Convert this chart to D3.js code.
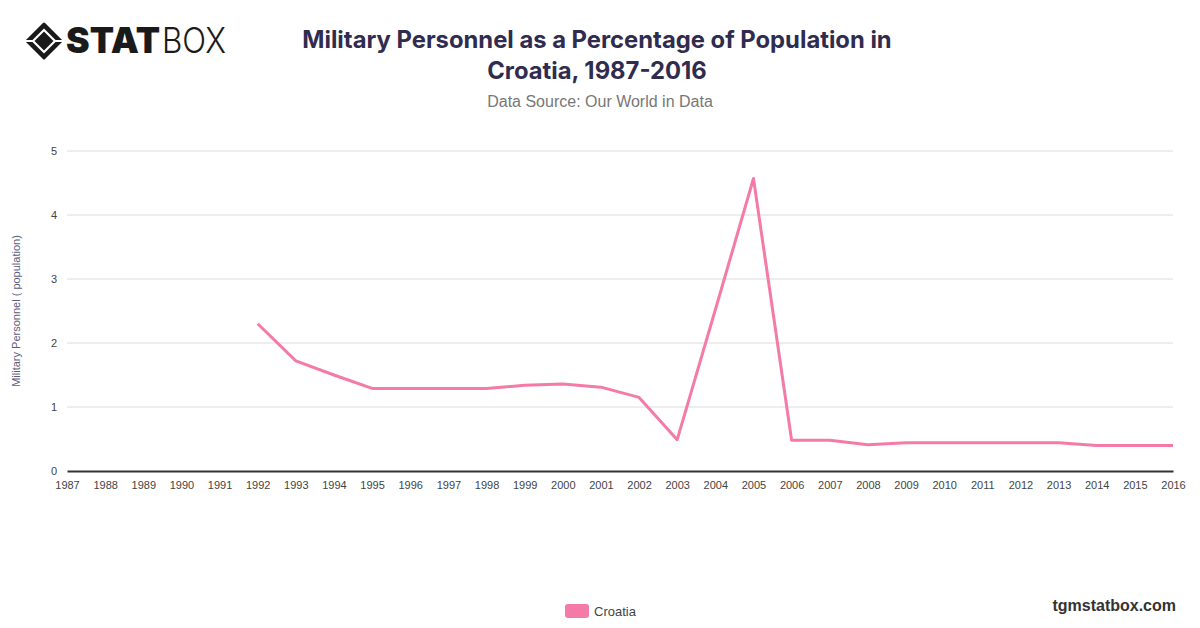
<!DOCTYPE html>
<html>
<head>
<meta charset="utf-8">
<script src="https://cdn.jsdelivr.net/npm/d3@7"></script>
<style>
  html, body { margin: 0; padding: 0; background: #fff; }
  svg { display: block; font-family: Inter, "Noto Sans", sans-serif; }
</style>
</head>
<body>
<svg id="chart" width="1200" height="628"></svg>
<script>
const years = d3.range(1987, 2017);
const croatia = [null, null, null, null, null, 2.30, 1.72, 1.50, 1.29, 1.29,
                 1.29, 1.29, 1.34, 1.36, 1.31, 1.15, 0.49, 2.52, 4.57, 0.48,
                 0.48, 0.41, 0.44, 0.44, 0.44, 0.44, 0.44, 0.40, 0.40, 0.40];
const yTicks = [0, 1, 2, 3, 4, 5];
const seriesName = "Croatia";
const titleLines = ["Military Personnel as a Percentage of Population in", "Croatia, 1987-2016"];
const subtitle = "Data Source: Our World in Data";
const yLabel = "Military Personnel ( population)";

const svg = d3.select("#chart");
const margin = {left: 67, right: 1173, top: 151, bottom: 471};
const sysFont = "Helvetica, Arial, 'Liberation Sans', sans-serif";

const x = d3.scalePoint().domain(years).range([margin.left, margin.right]);
const y = d3.scaleLinear().domain([0, 5]).range([margin.bottom, margin.top]);

// gridlines
svg.append("g").selectAll("line").data(yTicks.filter(d => d > 0)).join("line")
  .attr("x1", margin.left).attr("x2", margin.right)
  .attr("y1", d => y(d)).attr("y2", d => y(d))
  .attr("stroke", "#dcdcdc").attr("stroke-width", 1);

// y axis
const yAxis = svg.append("g").attr("transform", `translate(${margin.left},0)`)
  .call(d3.axisLeft(y).tickValues(yTicks).tickFormat(d3.format("d")).tickSize(0).tickPadding(10));
yAxis.select(".domain").remove();
yAxis.selectAll("text").attr("font-size", 11).attr("fill", "#444").attr("font-family", sysFont);

// x axis
const xAxis = svg.append("g").attr("transform", `translate(0,${margin.bottom})`)
  .call(d3.axisBottom(x).tickSize(0).tickPadding(10));
xAxis.select(".domain").attr("stroke", "#333").attr("stroke-width", 1.8);
xAxis.selectAll("text").attr("font-size", 11).attr("fill", "#444").attr("font-family", sysFont);

// y label
svg.append("text")
  .attr("transform", `translate(20,${(margin.top + margin.bottom) / 2}) rotate(-90)`)
  .attr("text-anchor", "middle")
  .attr("font-size", 11).attr("fill", "#5c5c7a")
  .attr("font-family", sysFont)
  .text(yLabel);

// line
const data = years.map((yr, i) => ({year: yr, v: croatia[i]}));
const line = d3.line().defined(d => d.v !== null).x(d => x(d.year)).y(d => y(d.v));
svg.append("path").datum(data)
  .attr("d", line).attr("fill", "none")
  .attr("stroke", "#f47ba7").attr("stroke-width", 3).attr("stroke-linejoin", "round");

// title
svg.append("g").selectAll("text").data(titleLines).join("text")
  .attr("x", 597).attr("y", (d, i) => 48 + i * 31)
  .attr("text-anchor", "middle").attr("font-size", 23.8).attr("font-weight", 700)
  .attr("fill", "#2f2c4f").text(d => d);
svg.append("text").attr("x", 600).attr("y", 107).attr("text-anchor", "middle")
  .attr("font-size", 16).attr("fill", "#777").attr("font-family", sysFont)
  .text(subtitle);

// legend
svg.append("rect").attr("x", 565).attr("y", 604).attr("width", 24).attr("height", 14).attr("rx", 3)
  .attr("fill", "#f47ba7");
svg.append("text").attr("x", 594).attr("y", 615.5).attr("font-size", 13).attr("fill", "#444")
  .attr("font-family", sysFont).text(seriesName);

// watermark
svg.append("text").attr("x", 1176).attr("y", 611).attr("text-anchor", "end")
  .attr("font-size", 16).attr("font-weight", 700).attr("fill", "#333")
  .attr("font-family", sysFont).text("tgmstatbox.com");

// logo
const logo = svg.append("g");
const cx = 44, cy = 41;
logo.append("path")
  .attr("d", `M${cx},${cy-17} L${cx+17},${cy} L${cx},${cy+17} L${cx-17},${cy} Z`)
  .attr("fill", "#1a1a1a").attr("stroke", "#1a1a1a").attr("stroke-width", 3).attr("stroke-linejoin", "round");
logo.append("path")
  .attr("d", `M${cx},${cy-11} L${cx+11},${cy} L${cx},${cy+11} L${cx-11},${cy} Z`)
  .attr("fill", "none").attr("stroke", "#fff").attr("stroke-width", 2.2);
logo.append("line").attr("x1", cx - 20).attr("y1", cy).attr("x2", cx - 11).attr("y2", cy).attr("stroke", "#fff").attr("stroke-width", 2);
logo.append("line").attr("x1", cx + 11).attr("y1", cy).attr("x2", cx + 20).attr("y2", cy).attr("stroke", "#fff").attr("stroke-width", 2);
logo.append("text").attr("x", 66).attr("y", 53).attr("font-size", 35).attr("font-weight", 900)
  .attr("fill", "#1a1a1a").attr("textLength", 94).attr("lengthAdjust", "spacingAndGlyphs").text("STAT");
logo.append("text").attr("x", 162).attr("y", 53).attr("font-size", 35).attr("font-weight", 300)
  .attr("fill", "#1a1a1a").attr("textLength", 64).attr("lengthAdjust", "spacingAndGlyphs").text("BOX");
</script>
</body>
</html>
